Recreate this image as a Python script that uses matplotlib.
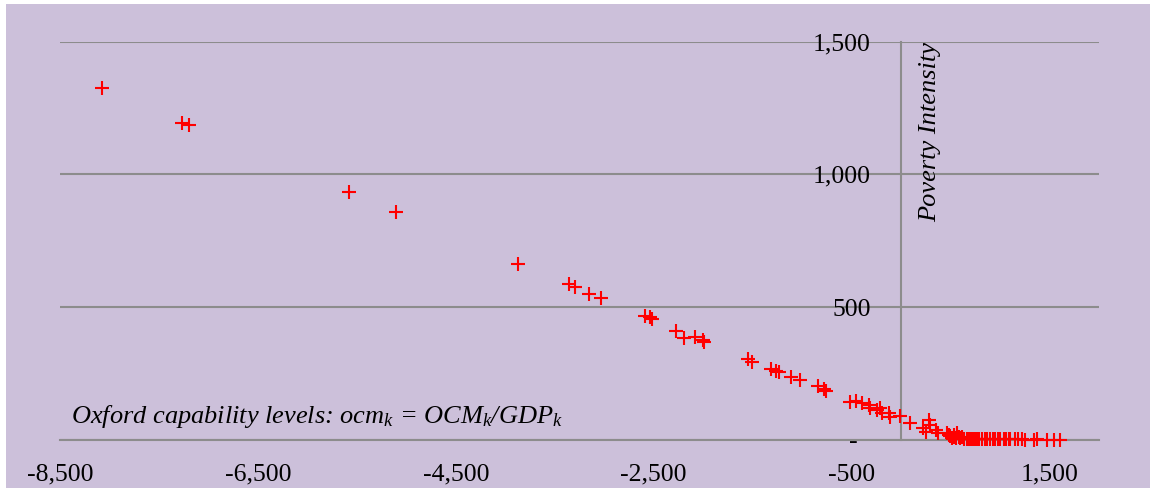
import matplotlib
matplotlib.use("Agg")
import matplotlib.pyplot as plt
from matplotlib.patches import Rectangle

plt.rcParams['font.family'] = ['Liberation Serif', 'DejaVu Serif']
plt.rcParams['mathtext.fontset'] = 'custom'
plt.rcParams['mathtext.it'] = 'Liberation Serif:italic'
plt.rcParams['mathtext.rm'] = 'Liberation Serif'

# data
ocm = [-8079, -7266, -7192, -5576, -5108, -3870, -3360, -3292, -3150, -3029,
       -2584, -2541, -2517, -2274, -2190, -2079, -2001, -1988, -1550, -1506,
       -1311, -1260, -1237, -1112, -1025, -843, -782, -758, -512, -452,
       -394, -327, -310, -243, -216, -192, -125, -108, -7, 94,
       222, 279, 289, 256, 357, 370, 465, 480, 498, 515,
       530, 539, 550, 566, 582, 600, 617, 640, 667, 690,
       700, 720, 734, 750, 768, 790, 819, 852, 870, 902,
       929, 953, 980, 1004, 1037, 1060, 1088, 1105, 1155, 1180,
       1223, 1250, 1340, 1375, 1476, 1542, 1610]
poverty = [1325, 1194, 1185, 935, 858, 664, 587, 575, 550, 536,
           468, 462, 454, 412, 385, 387, 376, 369, 304, 294,
           268, 261, 257, 237, 226, 204, 192, 186, 144, 148,
           138, 132, 119, 113, 119, 103, 100, 85, 90, 63,
           44, 75, 56, 31, 38, 27, 25, 20, 15, 6,
           12, 19, 8, 27, 10, 6, 12, 4, 4, 3,
           3, 5, 5, 2, 2, 3, 3, 4, 2, 2,
           5, 3, 2, 2, 3, 2, 4, 2, 3, 2,
           2, 1, 1, 2, 1, 1, 1]

xticks = [-8500, -6500, -4500, -2500, -500, 1500]
xlabels = ['-8,500', '-6,500', '-4,500', '-2,500', '-500', '1,500']
yticks = [0, 500, 1000, 1500]
ylabels = ['-  ', '500', '1,000', '1,500']

W, H = 1150, 488
fig = plt.figure(figsize=(W / 100, H / 100), dpi=100)
fig.patch.set_facecolor('#CCC0DA')
# thin white margin on the left and top, as in the source
fig.patches.append(Rectangle((0, 0), 6 / W, 1, transform=fig.transFigure,
                             facecolor='white', edgecolor='none', zorder=0))
fig.patches.append(Rectangle((0, 1 - 4 / H), 1, 4 / H, transform=fig.transFigure,
                             facecolor='white', edgecolor='none', zorder=0))

ax = fig.add_axes([60 / W, 48 / H, (1099 - 60) / W, (440 - 41.6) / H])
ax.set_zorder(2)
ax.set_facecolor('none')
grid_c = '#8c8c8c'

for s in ['top', 'right']:
    ax.spines[s].set_visible(False)
ax.spines['left'].set_position(('data', 0))
ax.spines['left'].set_color(grid_c)
ax.spines['left'].set_linewidth(1.5)
ax.spines['bottom'].set_color(grid_c)
ax.spines['bottom'].set_linewidth(1.5)

ax.plot(ocm, poverty, '+', color='#ff0000', markersize=10, markeredgewidth=1.5,
        zorder=3, clip_on=False)

ax.set_xlim(-8500, 2000)
ax.set_ylim(0, 1500)
ax.set_xticks(xticks)
ax.set_xticklabels(xlabels, fontsize=18.5)
ax.set_yticks(yticks)
ax.set_yticklabels(ylabels, fontsize=18.5)
ax.yaxis.grid(True, color=grid_c, linewidth=1.5)
ax.set_axisbelow(True)
ax.tick_params(axis='y', length=0, pad=22, labelsize=18.5)
ax.tick_params(axis='x', length=0, pad=17, labelsize=18.5)

fig.text(71 / W, 1 - 423 / H, 'Oxford capability levels: $ocm_k$ = $OCM_k$/$GDP_k$',
         style='italic', fontsize=19, ha='left', va='baseline', zorder=3)
fig.text(930 / W, 1 - 42 / H, 'Poverty Intensity', style='italic', fontsize=19,
         rotation=90, ha='center', va='top', zorder=3)

fig.savefig('out.png', dpi=100, facecolor=fig.get_facecolor())
